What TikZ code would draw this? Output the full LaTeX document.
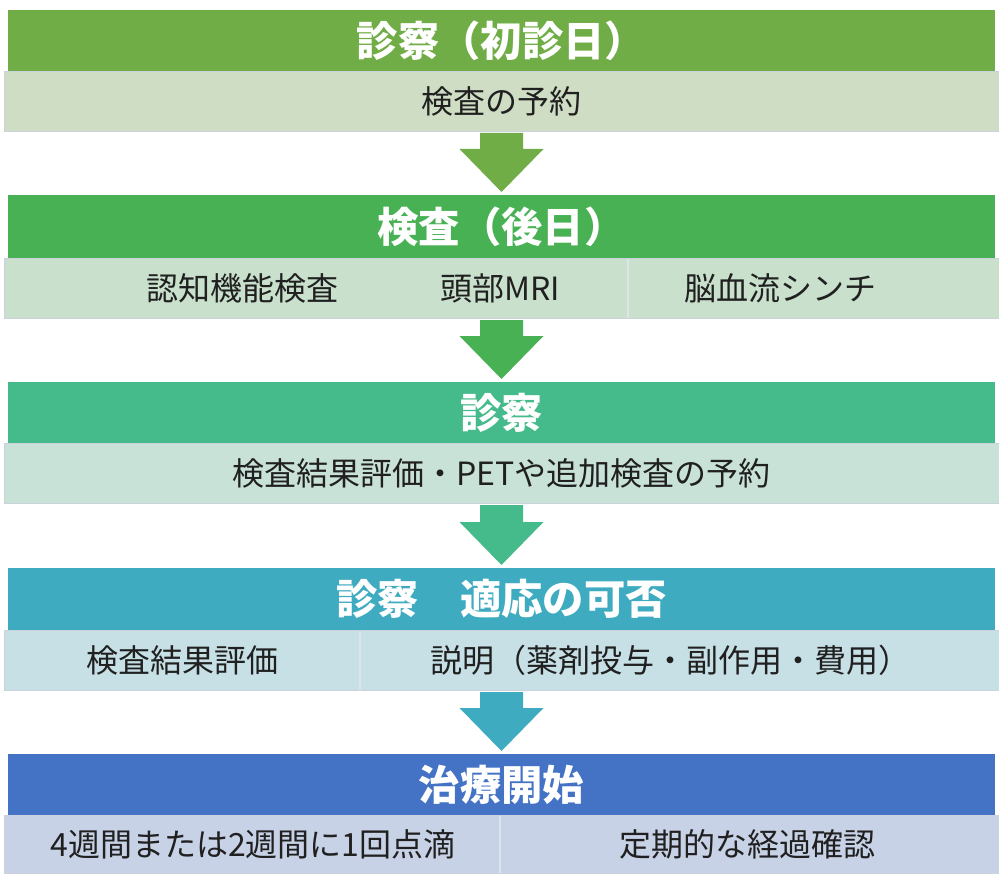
\documentclass[tikz,border=0pt]{standalone}
\usepackage{fontspec}
\setmainfont{Noto Sans CJK JP}
\usetikzlibrary{calc}
\definecolor{hA}{HTML}{70AD47}
\definecolor{sA}{HTML}{CEDDC3}
\definecolor{hB}{HTML}{47B153}
\definecolor{sB}{HTML}{C8E0CC}
\definecolor{hC}{HTML}{45BA8B}
\definecolor{sC}{HTML}{C9E2D8}
\definecolor{hD}{HTML}{3FABC0}
\definecolor{sD}{HTML}{C6E0E5}
\definecolor{hE}{HTML}{4472C4}
\definecolor{sE}{HTML}{C8D2E6}
\definecolor{subline}{HTML}{CBD2DC}
\definecolor{divline}{HTML}{DDE3EA}
\definecolor{txt}{HTML}{202020}
\begin{document}
\begin{tikzpicture}[x=0.75pt,y=-0.75pt,
  hdr/.style={anchor=north west, inner sep=0pt, minimum width=740.6pt, minimum height=45.75pt,
    text=white, font=\bfseries\fontsize{31pt}{31pt}\selectfont},
  subbox/.style={anchor=north west, inner sep=0pt, minimum width=746.6pt, minimum height=45pt,
    draw=subline, line width=0.75pt, text=txt, font=\fontsize{24pt}{24pt}\selectfont},
  lbl/.style={inner sep=0pt, text=txt, font=\fontsize{24pt}{24pt}\selectfont},
  divider/.style={draw=divline, line width=1.5pt}]
\useasboundingbox (0,0) rectangle (999,877);
\fill[white] (0,0) rectangle (999,877);

% sub rows
\node[subbox, fill=sA] (s1) at (3.5,71) {検査の予約};
\node[subbox, fill=sB] (s2) at (3.5,258) {};
\node[subbox, fill=sC] (s3) at (3.5,443) {検査結果評価・PETや追加検査の予約};
\node[subbox, fill=sD] (s4) at (3.5,630) {};
\node[subbox, fill=sE, minimum height=43.5pt] (s5) at (3.5,815) {};

% headers
\node[hdr, fill=hA] (h1) at (7.5,10) {診察（初診日）};
\node[hdr, fill=hB, minimum height=47.25pt] (h2) at (7.5,195) {検査（後日）};
\node[hdr, fill=hC] (h3) at (7.5,382) {診察};
\node[hdr, fill=hD, minimum height=46.5pt] (h4) at (7.5,568) {診察　適応の可否};
\node[hdr, fill=hE] (h5) at (7.5,754) {治療開始};

% dividers
\draw[divider] ($(s2.north west)+(624.5,1)$) coordinate (d2a) -- ($(s2.south west)+(624.5,-1)$) coordinate (d2b);
\draw[divider] ($(s4.north west)+(356.5,1)$) coordinate (d4a) -- ($(s4.south west)+(356.5,-1)$) coordinate (d4b);
\draw[divider] ($(s5.north west)+(496.5,1)$) coordinate (d5a) -- ($(s5.south west)+(496.5,-1)$) coordinate (d5b);

% sub labels
\node[lbl] (t2a) at ($(s2.west)+(238.5,0)$) {認知機能検査};
\node[lbl] (t2b) at ($(s2.west)+(496.5,0)$) {頭部MRI};
\node[lbl] (t2c) at ($(s2.west)+(776.5,0)$) {脳血流シンチ};
\node[lbl] (t4a) at ($(s4.west)+(178.5,0)$) {検査結果評価};
\node[lbl] (t4b) at ($(s4.west)+(666.5,0)$) {説明（薬剤投与・副作用・費用）};
\node[lbl] (t5a) at ($(s5.west)+(249.5,0)$) {4週間または2週間に1回点滴};
\node[lbl] (t5b) at ($(s5.west)+(743.5,0)$) {定期的な経過確認};

% arrows
\newcommand\flowarrow[3]{%
  \fill[#1] ($(#2.south)+(-21.5,1)$) -- ($(#2.south)+(21.5,1)$)
    -- ($(#3.north)+(21.5,-46)$) -- ($(#3.north)+(42,-46)$)
    -- ($(#3.north)+(0,-3)$)
    -- ($(#3.north)+(-42,-46)$) -- ($(#3.north)+(-21.5,-46)$) -- cycle;}
\flowarrow{hA}{s1}{h2}
\flowarrow{hB}{s2}{h3}
\flowarrow{hC}{s3}{h4}
\flowarrow{hD}{s4}{h5}
\end{tikzpicture}
\end{document}
